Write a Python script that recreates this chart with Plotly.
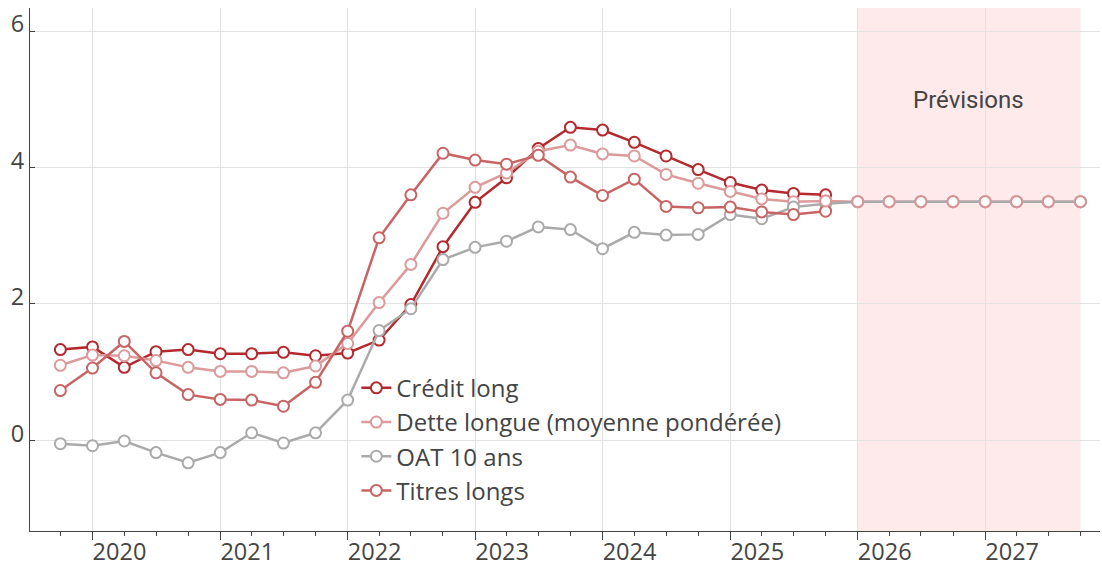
import plotly.graph_objects as go

# quarterly dates, 2019Q4 -> 2025Q4 observed, forecasts to 2027Q4
dates = [f"{2019 + (9 + 3 * i) // 12}-{(9 + 3 * i) % 12 + 1:02d}-01" for i in range(33)]
obs_dates = dates[:25]

credit_long = [1.33, 1.37, 1.07, 1.30, 1.33, 1.27, 1.27, 1.29, 1.24, 1.28,
               1.47, 1.99, 2.84, 3.49, 3.85, 4.28, 4.59, 4.55, 4.37, 4.17,
               3.97, 3.78, 3.67, 3.62, 3.60]
dette_longue = [1.10, 1.25, 1.24, 1.17, 1.07, 1.01, 1.01, 0.99, 1.09, 1.42,
                2.02, 2.58, 3.33, 3.71, 3.92, 4.24, 4.33, 4.20, 4.17, 3.90,
                3.77, 3.65, 3.54, 3.50, 3.51,
                3.5, 3.5, 3.5, 3.5, 3.5, 3.5, 3.5, 3.5]
oat_10 = [-0.05, -0.08, -0.01, -0.18, -0.33, -0.18, 0.11, -0.04, 0.11, 0.59,
          1.61, 1.93, 2.65, 2.83, 2.92, 3.13, 3.09, 2.81, 3.05, 3.01,
          3.02, 3.31, 3.25, 3.42, 3.47,
          3.5, 3.5, 3.5, 3.5, 3.5, 3.5, 3.5, 3.5]
titres_longs = [0.73, 1.06, 1.45, 0.99, 0.67, 0.60, 0.59, 0.50, 0.85, 1.60,
                2.97, 3.60, 4.21, 4.11, 4.05, 4.18, 3.86, 3.59, 3.83, 3.43,
                3.41, 3.42, 3.35, 3.31, 3.36]

series = [
    ("Crédit long", obs_dates, credit_long, "#b3292e"),
    ("Dette longue (moyenne pondérée)", dates, dette_longue, "#dc9a9a"),
    ("OAT 10 ans", dates, oat_10, "#aaaaaa"),
    ("Titres longs", obs_dates, titres_longs, "#c86464"),
]

fig = go.Figure()
for name, x, y, col in series:
    fig.add_scatter(
        x=x, y=y, name=name, mode="lines+markers",
        line=dict(color=col, width=2.5),
        marker=dict(size=11, color="white", line=dict(color=col, width=2)),
    )

# forecast markers of the weighted debt sit on top of the OAT line
fig.add_scatter(
    x=dates[24:], y=dette_longue[24:], mode="markers", showlegend=False,
    hoverinfo="skip",
    marker=dict(size=11, color="white", line=dict(color="#d89595", width=2)),
)

fig.add_vrect(x0="2026-01-01", x1="2027-10-01", fillcolor="#feeaea",
              line_width=0, layer="below")
fig.add_annotation(x="2026-11-15", y=4.99, text="Prévisions", showarrow=False,
                   font=dict(family="Roboto", size=24, color="#444"))

fig.update_layout(
    width=1102, height=566,
    margin=dict(l=30, r=2, t=8, b=35),
    plot_bgcolor="white", paper_bgcolor="white",
    font=dict(family="Open Sans", size=23.5, color="#444"),
    showlegend=True,
    legend=dict(x=0.305, y=0.316, xanchor="left", yanchor="top",
                bgcolor="rgba(0,0,0,0)", font=dict(size=24),
                tracegroupgap=0, itemwidth=30),
)
fig.update_xaxes(
    type="date", range=["2019-07-06", "2027-11-26"], automargin=False,
    dtick="M12", tick0="2020-01-01", tickformat="%Y",
    ticks="outside", ticklen=8, tickcolor="#444", ticklabelshift=27,
    ticklabelstandoff=-8,
    showline=True, linecolor="#444", linewidth=1,
    showgrid=True, gridcolor="#e2e2e2", zeroline=False,
    minor=dict(dtick="M3", tick0="2019-10-01", ticks="outside", ticklen=4,
               tickcolor="#444", showgrid=False),
    tickfont=dict(size=23.5),
)
fig.update_yaxes(
    range=[-1.33, 6.34], dtick=2, tick0=0, automargin=False,
    ticks="inside", ticklen=5, tickcolor="#444", ticklabelshift=-7,
    showline=True, linecolor="#444", linewidth=1,
    showgrid=True, gridcolor="#e2e2e2", zeroline=False,
    tickfont=dict(size=23.5),
)

fig.write_html("out.html", config={"displayModeBar": False},
               post_script="document.body.style.margin='0';")
